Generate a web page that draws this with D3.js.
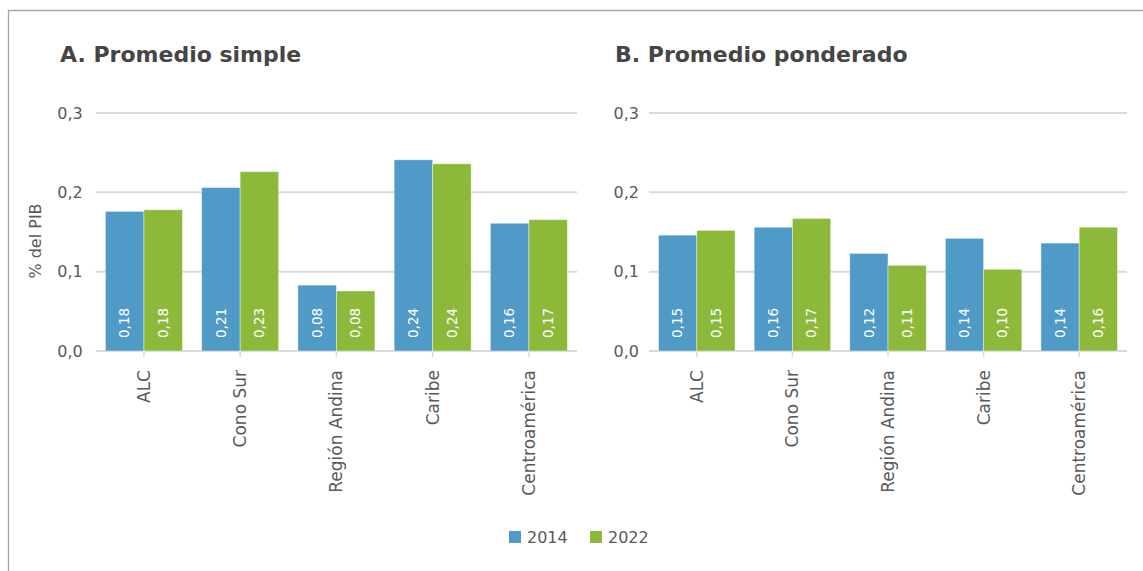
<!DOCTYPE html>
<html><head><meta charset="utf-8">
<script src="https://cdn.jsdelivr.net/npm/d3@7"></script>
<style>
body{margin:0;background:#fff;}
text{font-family:"DejaVu Sans",sans-serif;}
</style></head>
<body><svg id="c" width="1143" height="571"></svg>
<script>
const categories = ["ALC","Cono Sur","Región Andina","Caribe","Centroamérica"];
const seriesNames = ["2014","2022"];
const simple2014 = [0.176,0.206,0.083,0.241,0.161];
const simple2022 = [0.178,0.226,0.0757,0.236,0.1655];
const pond2014 = [0.146,0.156,0.123,0.142,0.136];
const pond2022 = [0.152,0.167,0.108,0.103,0.156];
const yTicks = [0,0.1,0.2,0.3];
const titles = ["A. Promedio simple","B. Promedio ponderado"];
const yTitle = "% del PIB";
const colors = ["#4f9ac7","#8db93b"];

const svg = d3.select("#c");
// frame
svg.append("line").attr("x1",8).attr("x2",1143).attr("y1",10.5).attr("y2",10.5).attr("stroke","#a6a6a6").attr("stroke-width",1.3);
svg.append("line").attr("x1",8.5).attr("x2",8.5).attr("y1",10).attr("y2",571).attr("stroke","#a6a6a6").attr("stroke-width",1.3);

const fmt = v => d3.format(".2f")(v).replace(".",",");
const fmtT = v => d3.format(".1f")(v).replace(".",",");

const y = d3.scaleLinear().domain([0,0.3]).range([351,113]);

function panel(x0,x1,titleX,title,s1,s2,labelGap){
  const g = svg.append("g");
  const x = d3.scaleBand().domain(categories).range([x0,x1]).paddingInner(0.2).paddingOuter(0.1);
  const xs = d3.scaleBand().domain(seriesNames).range([0,x.bandwidth()]);
  g.append("text").attr("x",titleX).attr("y",62).attr("font-size",22).attr("font-weight","bold").attr("fill","#454545").text(title);
  // grid
  g.selectAll(".grid").data(yTicks).join("line")
    .attr("x1",x0).attr("x2",x1).attr("y1",d=>y(d)).attr("y2",d=>y(d))
    .attr("stroke","#d9d9d9").attr("stroke-width",2);
  g.selectAll(".yl").data(yTicks).join("text")
    .attr("x",x0-labelGap).attr("y",d=>y(d)).attr("dy","0.35em").attr("text-anchor","end")
    .attr("font-size",16).attr("fill","#595959").text(fmtT);
  // ticks
  g.selectAll(".tk").data(categories).join("line")
    .attr("x1",d=>x(d)+x.bandwidth()/2).attr("x2",d=>x(d)+x.bandwidth()/2)
    .attr("y1",352).attr("y2",357).attr("stroke","#d9d9d9").attr("stroke-width",1.5);
  const data = [];
  categories.forEach((c,i)=>{data.push({c,s:seriesNames[0],v:s1[i],k:0});data.push({c,s:seriesNames[1],v:s2[i],k:1});});
  g.selectAll(".bar").data(data).join("rect")
    .attr("x",d=>x(d.c)+xs(d.s)).attr("width",xs.bandwidth())
    .attr("y",d=>y(d.v)).attr("height",d=>y(0)-y(d.v))
    .attr("fill",d=>colors[d.k]).attr("stroke","#ffffff").attr("stroke-opacity",0.5).attr("stroke-width",0.8);
  g.selectAll(".vl").data(data).join("text")
    .attr("transform",d=>`translate(${x(d.c)+xs(d.s)+xs.bandwidth()/2},338) rotate(-90)`)
    .attr("dy","0.35em").attr("font-size",13.5).attr("fill","#fff").text(d=>fmt(d.v));
  g.selectAll(".cl").data(categories).join("text")
    .attr("transform",d=>`translate(${x(d)+x.bandwidth()/2},370) rotate(-90)`)
    .attr("dy","0.35em").attr("text-anchor","end").attr("font-size",17).attr("fill","#595959").text(d=>d);
}
panel(95.8,577,60,titles[0],simple2014,simple2022,13);
panel(649,1127,615,titles[1],pond2014,pond2022,10);

svg.append("text").attr("transform","translate(35,241) rotate(-90)").attr("dy","0.35em")
  .attr("text-anchor","middle").attr("font-size",16).attr("fill","#595959").text(yTitle);

// legend
const lx = [509,590];
seriesNames.forEach((s,i)=>{
  svg.append("rect").attr("x",lx[i]).attr("y",531).attr("width",12).attr("height",12).attr("fill",colors[i]);
  svg.append("text").attr("x",lx[i]+18).attr("y",537).attr("dy","0.35em").attr("font-size",16).attr("fill","#595959").text(s);
});
</script></body></html>
